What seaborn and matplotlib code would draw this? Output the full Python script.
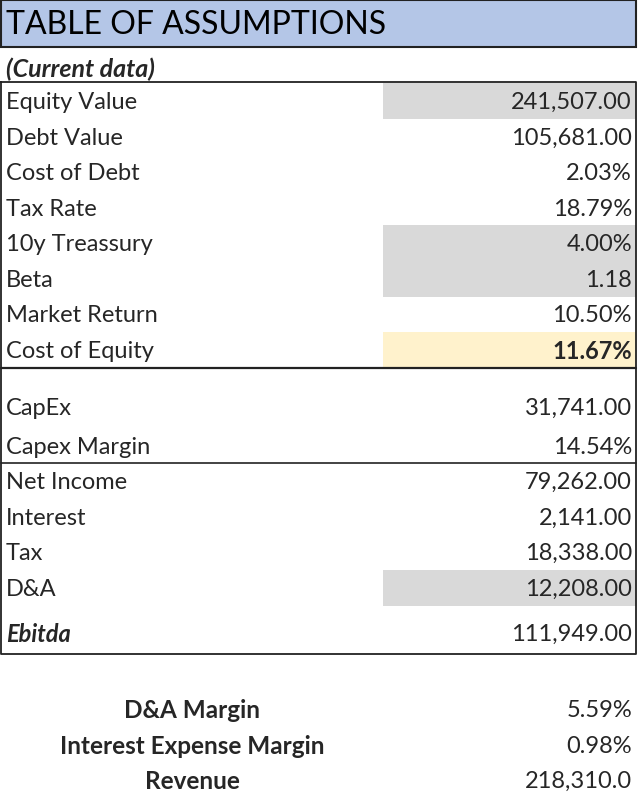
import matplotlib
matplotlib.use("Agg")
import matplotlib.pyplot as plt
import seaborn as sns
from matplotlib.patches import Rectangle

# table content
labels = ["Equity Value", "Debt Value", "Cost of Debt", "Tax Rate", "10y Treassury",
          "Beta", "Market Return", "Cost of Equity",
          "CapEx", "Capex Margin",
          "Net Income", "Interest", "Tax", "D&A", "Ebitda"]
values = ["241,507.00", "105,681.00", "2.03%", "18.79%", "4.00%",
          "1.18", "10.50%", "11.67%",
          "31,741.00", "14.54%",
          "79,262.00", "2,141.00", "18,338.00", "12,208.00", "111,949.00"]
summary_labels = ["D&A Margin", "Interest Expense Margin", "Revenue"]
summary_values = ["5.59%", "0.98%", "218,310.0"]

# layout (pixel rows, top-down)
row_y = [101, 137, 172, 208, 243, 279, 314, 350, 407, 446, 481, 517, 552, 588, 633]
row_fill = ["#D9D9D9", None, None, None, "#D9D9D9", "#D9D9D9", None, "#FFF2CC",
            None, None, None, None, None, "#D9D9D9", None]
row_half = 17.7
summary_y = [709, 745, 780]

sns.set_style("white")
plt.rcParams["font.family"] = ["Lato", "DejaVu Sans"]

fig = plt.figure(figsize=(6.4, 7.95), dpi=100)
ax = fig.add_axes([0, 0, 1, 1])
ax.set_xlim(0, 640)
ax.set_ylim(795, 0)
ax.axis("off")

LX, RX = 1, 636
VX = 383
dy = 1.5

# header band
ax.add_patch(Rectangle((LX, 0), RX - LX, 47, facecolor="#B4C6E7",
                       edgecolor="#222222", lw=1.5))
ax.text(6, 25, "TABLE OF ASSUMPTIONS", fontsize=23, va="center", ha="left", color="black")
ax.text(6, 68 + dy, "(Current data)", fontsize=18, fontweight="bold", fontstyle="italic",
        va="center", ha="left")

# cell fills
for y, c in zip(row_y, row_fill):
    if c:
        ax.add_patch(Rectangle((VX, y - row_half), RX - VX, 2 * row_half,
                               facecolor=c, edgecolor="none"))

# box outline and section lines
ax.plot([LX, RX, RX, LX, LX], [82, 82, 654, 654, 82], color="#222222", lw=1.3)
ax.plot([LX, RX], [368, 368], color="#222222", lw=1.6)
ax.plot([LX, RX], [463, 463], color="#222222", lw=1.2)

for lab, val, y in zip(labels, values, row_y):
    lab_kw = {}
    if lab == "Ebitda":
        lab_kw = dict(fontweight="bold", fontstyle="italic")
    ax.text(6, y + dy, lab, fontsize=17, va="center", ha="left", **lab_kw)
    ax.text(632, y + dy, val, fontsize=17, va="center", ha="right",
            fontweight="bold" if lab == "Cost of Equity" else "normal")

for lab, val, y in zip(summary_labels, summary_values, summary_y):
    ax.text(192, y + dy, lab, fontsize=17.5, fontweight="bold", va="center", ha="center")
    ax.text(632, y + dy, val, fontsize=17, va="center", ha="right")

fig.savefig("out.png", dpi=100)
